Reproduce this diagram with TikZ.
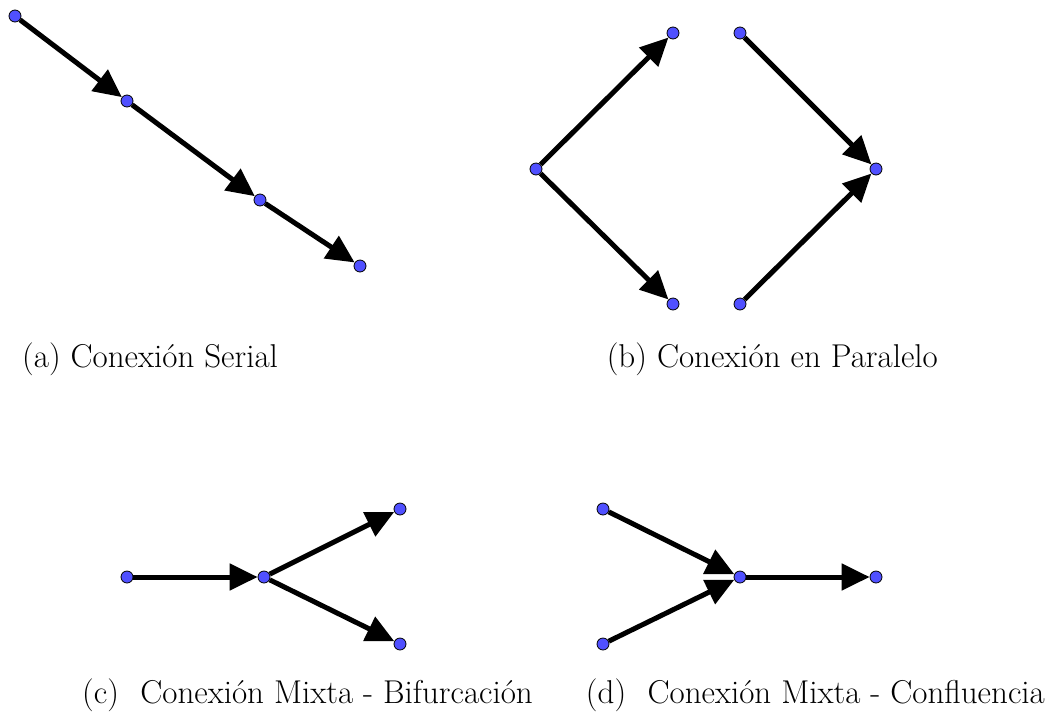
\documentclass[tikz,border=0pt]{standalone}
\usetikzlibrary{arrows.meta}
\definecolor{nodeblue}{RGB}{80,80,255}
\begin{document}
\begin{tikzpicture}[x=1pt,y=-1pt,
  pt/.style={circle,draw=black,line width=0.8pt,fill=nodeblue,inner sep=0pt,minimum size=12pt},
  conn/.style={line width=5pt,-{Triangle[length=28pt,width=26pt]}},
  captext/.style={inner sep=0pt,font=\fontsize{33}{40}\selectfont}]
\useasboundingbox (0,0) rectangle (1050,713);
% (a)
\node[pt] (a1) at (15,16) {};
\node[pt] (a2) at (127,101) {};
\node[pt] (a3) at (260,200) {};
\node[pt] (a4) at (360,266) {};
\draw[conn] (a1) -- (a2);
\draw[conn] (a2) -- (a3);
\draw[conn] (a3) -- (a4);
\node[captext,anchor=base west] (ca) at (22,367) {(a) Conexión Serial};
% (b)
\node[pt] (b0) at (536,169) {};
\node[pt] (b1) at (673,33) {};
\node[pt] (b2) at (673,304) {};
\node[pt] (b3) at (740,33) {};
\node[pt] (b4) at (740,304) {};
\node[pt] (b5) at (876,169) {};
\draw[conn] (b0) -- (b1);
\draw[conn] (b0) -- (b2);
\draw[conn] (b3) -- (b5);
\draw[conn] (b4) -- (b5);
\node[captext,anchor=base east] (cb) at (938,367) {(b) Conexión en Paralelo};
% (c)
\node[pt] (c1) at (127,577) {};
\node[pt] (c2) at (264,577) {};
\node[pt] (c3) at (400,509) {};
\node[pt] (c4) at (400,644) {};
\draw[conn] (c1) -- (c2);
\draw[conn] (c2) -- (c3);
\draw[conn] (c2) -- (c4);
\node[captext,anchor=base west] (cc) at (82,703) {(c)\hspace{0.65em}Conexión Mixta - Bifurcación};
% (d)
\node[pt] (d1) at (603,509) {};
\node[pt] (d2) at (603,644) {};
\node[pt] (d3) at (740,577) {};
\node[pt] (d4) at (876,577) {};
\draw[conn] (d1) -- (d3);
\draw[conn] (d2) -- (d3);
\draw[conn] (d3) -- (d4);
\node[captext,anchor=base east] (cd) at (1045,703) {(d)\hspace{0.65em}Conexión Mixta - Confluencia};
\end{tikzpicture}
\end{document}
